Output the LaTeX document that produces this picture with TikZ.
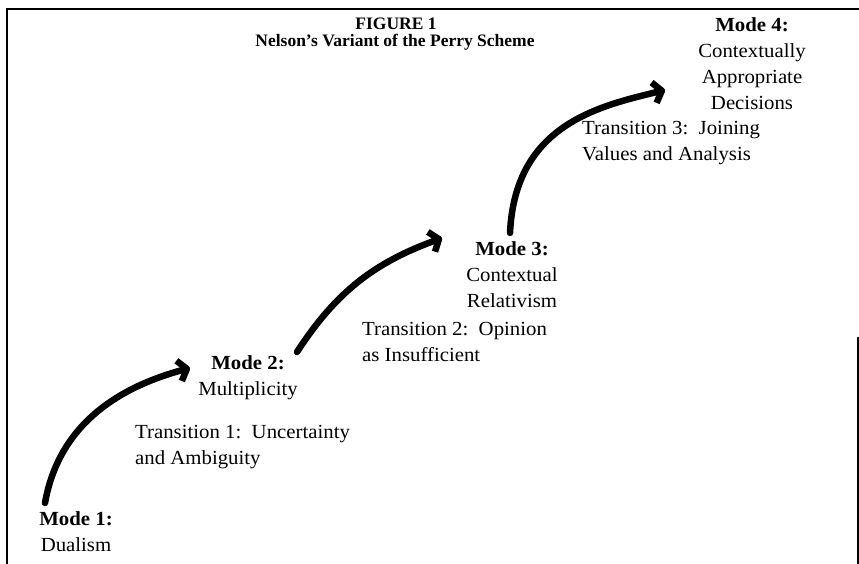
\documentclass[tikz,border=0pt]{standalone}
\usepackage{fontspec}
\setmainfont{Liberation Serif}[FakeStretch=1.04]
\newfontfamily\titlefont{Liberation Serif}
\usetikzlibrary{arrows.meta}
\begin{document}
\begin{tikzpicture}[x=1pt,y=1pt,
  lbl/.style={inner sep=0pt, font=\fontsize{20}{26}\selectfont},
  modelbl/.style={lbl, align=center, anchor=base},
  translbl/.style={lbl, align=left, anchor=base west},
  titlelbl/.style={inner sep=0pt, anchor=base, font=\titlefont\bfseries\fontsize{17.5}{17.5}\selectfont},
  curvearrow/.style={line width=6.5pt, line cap=round, -{Straight Barb[length=8pt,width=21pt,line join=round]}},
  frameline/.style={line width=1.8pt}]
\useasboundingbox (0,0) rectangle (859,564);
% frame
\coordinate (fbl) at (7,0);
\coordinate (ftl) at (7,555);
\coordinate (ftr) at (859,555);
\coordinate (frt) at (858,227);
\coordinate (frb) at (858,0);
\draw[frameline] (fbl) -- (ftl) -- (ftr);
\draw[frameline] (frt) -- (frb);
% title
\node[titlelbl] (fig) at (396,534) {FIGURE 1};
\node[titlelbl] (title) at (395,517) {Nelson’s Variant of the Perry Scheme};
% modes and transitions (anchor = baseline of last line)
\node[modelbl] (m4) at (752,454) {\textbf{Mode 4:}\\Contextually\\Appropriate\\Decisions};
\node[translbl] (t3) at (582,403) {Transition 3:\ \ Joining\\Values and Analysis};
\node[modelbl] (m3) at (512,256) {\textbf{Mode 3:}\\Contextual\\Relativism};
\node[translbl] (t2) at (362,202) {Transition 2:\ \ Opinion\\as Insufficient};
\node[modelbl] (m2) at (248,168) {\textbf{Mode 2:}\\Multiplicity};
\node[translbl] (t1) at (135,99) {Transition 1:\ \ Uncertainty\\and Ambiguity};
\node[modelbl] (m1) at (76,12) {\textbf{Mode 1:}\\Dualism};
% arrow ends
\coordinate (a1s) at (45,61);
\coordinate (a1e) at (190,196);
\coordinate (a2s) at (297,212);
\coordinate (a2e) at (442,326);
\coordinate (a3s) at (510,331);
\coordinate (a3c1) at (515,440);
\coordinate (a3c2) at (600,458);
\coordinate (a3e) at (665,474);
\draw[curvearrow] (a1s) to[out=80,in=195] (a1e);
\draw[curvearrow] (a2s) to[out=57,in=200] (a2e);
\draw[curvearrow] (a3s) .. controls (a3c1) and (a3c2) .. (a3e);
\end{tikzpicture}
\end{document}
